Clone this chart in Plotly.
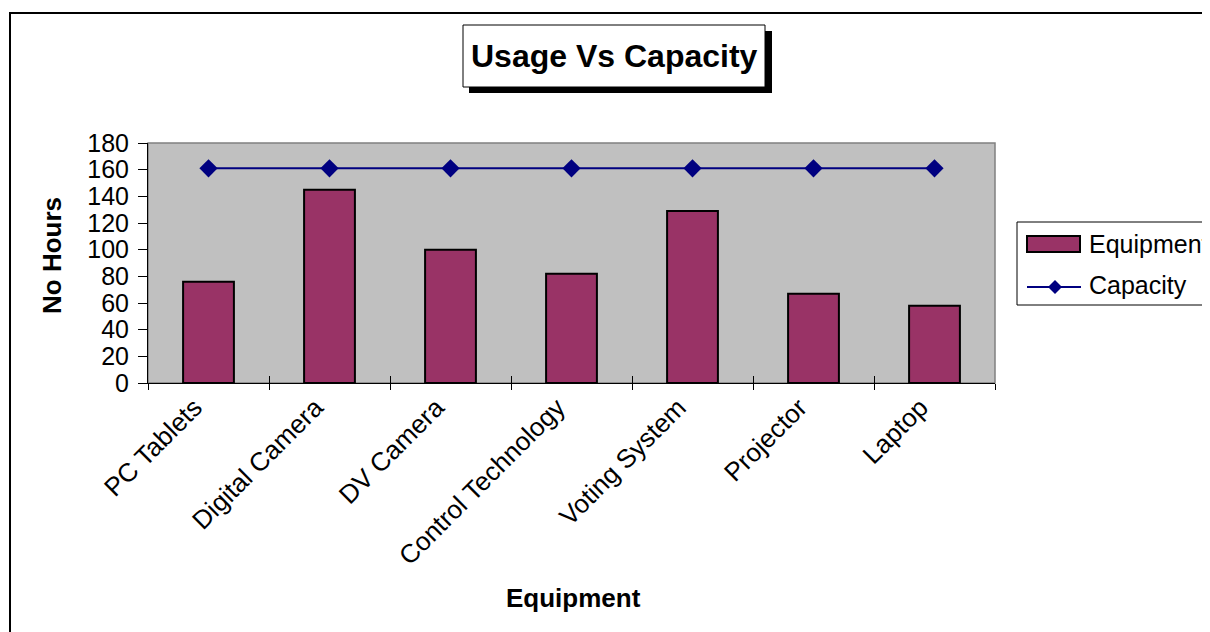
import plotly.graph_objects as go

categories = ["PC Tablets", "Digital Camera", "DV Camera", "Control Technology",
              "Voting System", "Projector", "Laptop"]
usage = [76, 145, 100, 82, 129, 67, 58]
capacity = [161, 161, 161, 161, 161, 161, 161]
y_ticks = [0, 20, 40, 60, 80, 100, 120, 140, 160, 180]

OFF = 8  # default page body margin
W, H = 1210 - OFF, 632 - OFF
L, R, T, B = 148, 995, 143, 383  # plot area in screen pixels
pw, ph = R - L, B - T

def px(x):
    return (x - L) / pw

def py(y):
    return (B - y) / ph

FONT = "Liberation Sans, Arial, sans-serif"
BAR_COLOR = "#993366"
LINE_COLOR = "#000080"

fig = go.Figure()
fig.add_trace(go.Bar(
    x=categories, y=usage, name="Equipment", showlegend=False,
    marker=dict(color=BAR_COLOR, line=dict(color="black", width=2)),
))
fig.add_trace(go.Scatter(
    x=categories, y=capacity, name="Capacity", mode="lines+markers", showlegend=False,
    line=dict(color=LINE_COLOR, width=2),
    marker=dict(symbol="diamond", size=14, color=LINE_COLOR),
))
# empty helper trace so the overlay axis (inner half of crossing ticks) is drawn
fig.add_trace(go.Scatter(x=[None], y=[None], xaxis="x2", yaxis="y",
                         showlegend=False, hoverinfo="skip", mode="markers"))

def rect(x0, x1, y0, y1, line_color="black", width=1, fill="rgba(0,0,0,0)", layer="above"):
    return dict(type="rect", xref="paper", yref="paper",
                x0=px(x0), x1=px(x1), y0=py(y0), y1=py(y1),
                line=dict(color=line_color, width=width), fillcolor=fill, layer=layer)

# diamond legend marker (pixel geometry)
dcx, dcy, dr = 1055, 287, 7
diamond_path = "M {a},{b} L {c},{d} L {e},{f} L {g},{h} Z".format(
    a=px(dcx - dr), b=py(dcy), c=px(dcx), d=py(dcy - dr),
    e=px(dcx + dr), f=py(dcy), g=px(dcx), h=py(dcy + dr))

shapes = [
    # outer chart border
    rect(10, 1240, 13, 680, width=2, layer="below"),
    # plot area border (gray)
    dict(type="rect", xref="paper", yref="paper", x0=0, x1=1, y0=0, y1=1,
         line=dict(color="#808080", width=1.5), fillcolor="rgba(0,0,0,0)", layer="below"),
    # title shadow + box
    rect(469, 772, 31, 93, line_color="black", width=0, fill="black"),
    rect(463, 765, 25, 87, line_color="black", width=1, fill="white"),
    # legend box
    rect(1017, 1240, 222, 305, line_color="black", width=1, fill="white"),
    # legend bar swatch
    rect(1027, 1080, 236, 252, line_color="black", width=2, fill=BAR_COLOR),
    # legend line swatch
    dict(type="line", xref="paper", yref="paper",
         x0=px(1027), x1=px(1081), y0=py(287), y1=py(287),
         line=dict(color=LINE_COLOR, width=2)),
    dict(type="path", xref="paper", yref="paper", path=diamond_path,
         line=dict(color=LINE_COLOR, width=0), fillcolor=LINE_COLOR),
]

annotations = [
    dict(text="<b>Usage Vs Capacity</b>", xref="paper", yref="paper",
         x=px(614), y=py(56), showarrow=False, xanchor="center", yanchor="middle",
         font=dict(size=32, color="black", family=FONT)),
    dict(text="<b>Equipment</b>", xref="paper", yref="paper",
         x=px(573), y=py(598), showarrow=False, xanchor="center", yanchor="middle",
         font=dict(size=26, color="black", family=FONT)),
    dict(text="<b>No Hours</b>", xref="paper", yref="paper",
         x=px(52), y=py(256), showarrow=False, xanchor="center", yanchor="middle",
         textangle=-90, font=dict(size=26, color="black", family=FONT)),
    dict(text="Equipment", xref="paper", yref="paper",
         x=px(1087), y=py(244), showarrow=False, xanchor="left", yanchor="middle",
         font=dict(size=25, color="black", family=FONT)),
    dict(text="Capacity", xref="paper", yref="paper",
         x=px(1087), y=py(285), showarrow=False, xanchor="left", yanchor="middle",
         font=dict(size=25, color="black", family=FONT)),
]

fig.update_layout(
    width=W, height=H,
    margin=dict(l=L - OFF, r=W - (R - OFF), t=T - OFF, b=H - (B - OFF), pad=0),
    paper_bgcolor="white",
    plot_bgcolor="#C0C0C0",
    font=dict(family=FONT, size=25, color="black"),
    bargap=0.58,
    showlegend=False,
    shapes=shapes,
    annotations=annotations,
    xaxis2=dict(
        overlaying="x", range=[-0.5, len(categories) - 0.5],
        tickvals=[i - 0.5 for i in range(len(categories) + 1)],
        ticks="inside", ticklen=7, tickcolor="black", tickwidth=1,
        showticklabels=False, showline=False, showgrid=False, zeroline=False,
        automargin=False,
    ),
)

fig.update_xaxes(
    selector=dict(anchor="y"),
)
fig.update_layout(xaxis=dict(
    type="category", categoryorder="array", categoryarray=categories,
    tickangle=-45, ticks="outside", ticklen=6, tickcolor="black", tickwidth=1,
    tickson="boundaries", showline=True, linecolor="black", linewidth=1,
    showgrid=False, zeroline=False, automargin=False,
    ticklabelshift=-14, ticklabelstandoff=-2,
    tickfont=dict(size=26, color="black", family=FONT),
))
fig.update_layout(yaxis=dict(
    range=[0, 180], tickvals=y_ticks, ticktext=[str(v) for v in y_ticks],
    ticks="outside", ticklen=9, tickcolor="black", tickwidth=1,
    showline=True, linecolor="black", linewidth=1,
    showgrid=False, zeroline=False, automargin=False,
    ticklabelstandoff=4,
    tickfont=dict(size=25, color="black", family=FONT),
))

fig.write_html("out.html")
